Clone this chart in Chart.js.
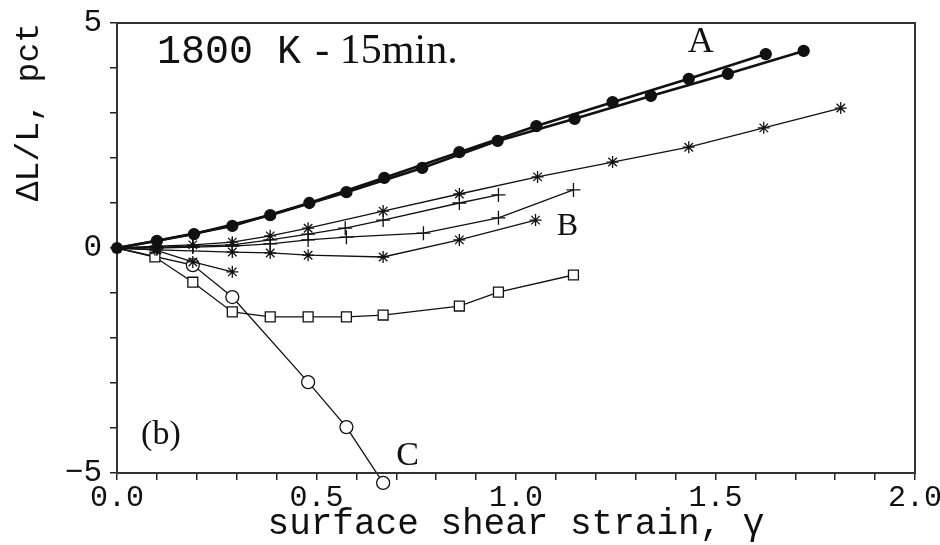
<!DOCTYPE html>
<html>
<head>
<meta charset="utf-8">
<script src="https://cdn.jsdelivr.net/npm/chart.js@4"></script>
<style>
  html, body { margin: 0; padding: 0; background: #fff; }
  #wrap { width: 940px; height: 545px; }
</style>
</head>
<body>
<div id="wrap"><canvas id="grafico"></canvas></div>
<script>
// curve A (two nearly coincident runs, filled circles)
const aLowX = [0, 0.193, 0.384, 0.575, 0.765, 0.954, 1.147, 1.338, 1.531, 1.721];
const aLowY = [0, 0.31, 0.73, 1.24, 1.78, 2.38, 2.87, 3.38, 3.87, 4.38];
const aUpX = [0, 0.1, 0.289, 0.482, 0.67, 0.858, 1.051, 1.242, 1.433, 1.626];
const aUpY = [0, 0.16, 0.49, 1.0, 1.56, 2.13, 2.71, 3.24, 3.76, 4.31];

// group B
const starLongX = [0, 0.1, 0.19, 0.289, 0.384, 0.479, 0.667, 0.858, 1.054, 1.242, 1.433, 1.621, 1.814];
const starLongY = [0, 0.04, 0.07, 0.13, 0.27, 0.44, 0.82, 1.2, 1.58, 1.91, 2.24, 2.67, 3.11];
const plus1X = [0, 0.1, 0.19, 0.289, 0.384, 0.479, 0.572, 0.667, 0.858, 0.956];
const plus1Y = [0, 0.02, 0.04, 0.07, 0.18, 0.31, 0.44, 0.62, 1.0, 1.18];
const plus2X = [0, 0.1, 0.19, 0.289, 0.384, 0.479, 0.575, 0.768, 0.956, 1.144];
const plus2Y = [0, 0, 0.02, 0.04, 0.09, 0.18, 0.24, 0.33, 0.67, 1.29];
const star2X = [0, 0.1, 0.289, 0.384, 0.479, 0.667, 0.858, 1.049];
const star2Y = [0, -0.04, -0.09, -0.11, -0.16, -0.2, 0.18, 0.62];

// short star run, squares and curve C
const starShortX = [0, 0.095, 0.19, 0.289];
const starShortY = [0, -0.04, -0.31, -0.53];
const sqX = [0, 0.095, 0.19, 0.289, 0.384, 0.479, 0.575, 0.667, 0.858, 0.956, 1.144];
const sqY = [0, -0.2, -0.76, -1.42, -1.53, -1.53, -1.53, -1.49, -1.29, -0.98, -0.6];
const circX = [0, 0.19, 0.289, 0.479, 0.575, 0.667];
const circY = [0, -0.38, -1.09, -2.98, -3.98, -5.22];

const xTickLabels = ['0.0', '0.5', '1.0', '1.5', '2.0'];
const yTickLabels = ['\u22125', '0', '5'];
const xTitle = 'surface shear strain, \u03b3';
const yTitle = '\u0394L/L, pct';

const pts = (xs, ys) => xs.map((x, i) => ({ x: x, y: ys[i] }));
const ink = '#111';

// open markers are hidden at the common origin, where only the filled dot shows
function serie(xs, ys, style, r, extra) {
  return Object.assign({
    data: pts(xs, ys),
    borderColor: ink,
    borderWidth: 1.3,
    pointStyle: style,
    pointRadius: ctx => (ctx.dataIndex === 0 ? 0 : r),
    pointBorderColor: ink,
    pointBorderWidth: 1.3,
    pointBackgroundColor: '#fff',
    tension: 0,
    fill: false,
    order: 2
  }, extra || {});
}

// frame, the C point that falls below the axis, and text labels
const rotulos = {
  id: 'rotulos',
  afterDatasetsDraw(chart) {
    const { ctx, chartArea: a, scales: { x, y } } = chart;
    ctx.save();
    ctx.strokeStyle = '#333';
    ctx.lineWidth = 2;
    ctx.strokeRect(a.left, a.top, a.right - a.left, a.bottom - a.top);

    // Chart.js skips points outside the chart area; draw those of curve C by hand
    const metaC = chart.getDatasetMeta(8);
    metaC.data.forEach(p => {
      if (p.y > a.bottom + 3) {
        ctx.beginPath();
        ctx.arc(p.x, p.y, 6.5, 0, Math.PI * 2);
        ctx.fillStyle = '#fff';
        ctx.fill();
        ctx.lineWidth = 1.3;
        ctx.strokeStyle = ink;
        ctx.stroke();
      }
    });

    // filled dot at the origin
    ctx.beginPath();
    ctx.arc(x.getPixelForValue(aLowX[0]), y.getPixelForValue(aLowY[0]), 6, 0, Math.PI * 2);
    ctx.fillStyle = ink;
    ctx.fill();

    ctx.textBaseline = 'alphabetic';
    ctx.textAlign = 'left';
    ctx.font = '40px "Liberation Mono"';
    ctx.fillText('1800 K', x.getPixelForValue(0.1), y.getPixelForValue(4.11));
    ctx.font = '42px "Liberation Serif"';
    ctx.fillText('- 15min.', x.getPixelForValue(0.497), y.getPixelForValue(4.11));

    ctx.textAlign = 'center';
    ctx.textBaseline = 'middle';
    ctx.font = '36px "Liberation Serif"';
    ctx.fillText('A', x.getPixelForValue(1.463), y.getPixelForValue(4.56));
    ctx.font = '32px "Liberation Serif"';
    ctx.fillText('B', x.getPixelForValue(1.129), y.getPixelForValue(0.47));
    ctx.font = '34px "Liberation Serif"';
    ctx.fillText('C', x.getPixelForValue(0.728), y.getPixelForValue(-4.62));
    ctx.fillText('(b)', x.getPixelForValue(0.11), y.getPixelForValue(-4.16));
    ctx.restore();
  }
};

new Chart(document.getElementById('grafico'), {
  type: 'line',
  data: {
    datasets: [
      serie(aLowX, aLowY, 'circle', 5.5, { borderWidth: 2.6, pointBackgroundColor: ink, order: 1 }),
      serie(aUpX, aUpY, 'circle', 5.5, { borderWidth: 2.6, pointBackgroundColor: ink, order: 1 }),
      serie(starLongX, starLongY, 'star', 6),
      serie(plus1X, plus1Y, 'cross', 7),
      serie(plus2X, plus2Y, 'cross', 7),
      serie(star2X, star2Y, 'star', 6),
      serie(starShortX, starShortY, 'star', 6),
      serie(sqX, sqY, 'rect', 7),
      serie(circX, circY, 'circle', 6.5, { clip: false, order: 3 })
    ]
  },
  options: {
    responsive: true,
    maintainAspectRatio: false,
    animation: false,
    layout: { padding: { top: 23, right: 25, left: 0, bottom: 0 } },
    plugins: { legend: { display: false }, tooltip: { enabled: false } },
    scales: {
      x: {
        type: 'linear',
        min: 0,
        max: 2,
        afterFit(s) { s.height = 72; s.paddingLeft = 0; s.paddingRight = 0; },
        ticks: {
          stepSize: 0.1,
          autoSkip: false,
          maxRotation: 0,
          padding: 0,
          color: ink,
          font: { family: 'Liberation Mono', size: 30 },
          callback(v) {
            const k = Math.round(v * 2);
            return Math.abs(v * 2 - k) < 1e-6 ? xTickLabels[k] : '';
          }
        },
        grid: { drawOnChartArea: false, drawTicks: true, tickLength: 7, color: '#222', lineWidth: 1.5 },
        border: { display: true, color: '#333', width: 2 },
        title: {
          display: true,
          text: xTitle,
          color: ink,
          font: { family: 'Liberation Mono', size: 36, lineHeight: 1 },
          padding: { top: 0, bottom: 3 }
        }
      },
      y: {
        type: 'linear',
        min: -5,
        max: 5,
        afterFit(s) { s.width = 117; s.paddingTop = 0; s.paddingBottom = 0; },
        ticks: {
          stepSize: 1,
          autoSkip: false,
          padding: 8,
          color: ink,
          font: { family: 'Liberation Mono', size: 31 },
          callback(v) {
            if (v === -5) return yTickLabels[0];
            if (v === 0) return yTickLabels[1];
            if (v === 5) return yTickLabels[2];
            return '';
          }
        },
        grid: { drawOnChartArea: false, drawTicks: true, tickLength: 7, color: '#222', lineWidth: 1.5 },
        border: { display: true, color: '#333', width: 2 },
        title: {
          display: true,
          text: yTitle,
          align: 'end',
          color: ink,
          font: { family: 'Liberation Mono', size: 33, lineHeight: 1 },
          padding: { top: 13, bottom: 0 }
        }
      }
    }
  },
  plugins: [rotulos]
});
</script>
</body>
</html>
